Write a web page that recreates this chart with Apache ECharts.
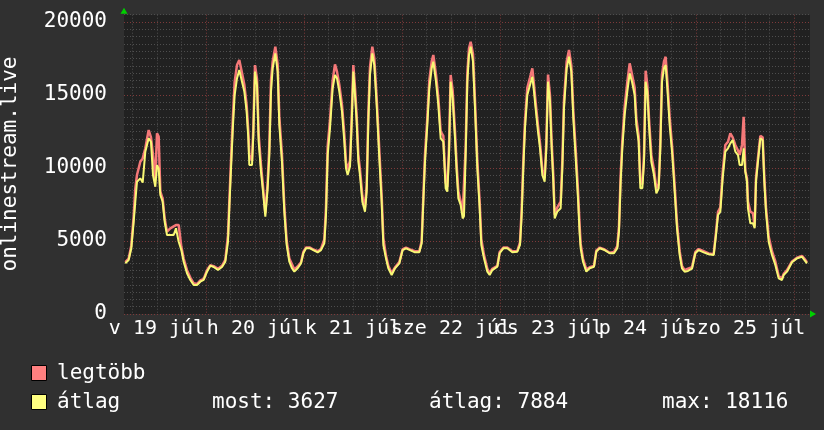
<!DOCTYPE html>
<html>
<head>
<meta charset="utf-8">
<script src="https://cdn.jsdelivr.net/npm/echarts@6/dist/echarts.min.js"></script>
<style>
  html, body { margin: 0; padding: 0; background: #303030; }
  #chart { width: 824px; height: 430px; }
</style>
</head>
<body>
<div id="chart"></div>
<script>
// hours since v 19 júl 00:00
const hours = [
  4.24, 5.06, 5.71, 6.29, 6.69, 7.10, 7.91, 8.50, 9.14, 9.96, 10.53, 11.02, 11.59, 12.00, 12.41, 12.82,
  13.39, 13.88, 14.45, 15.26, 16.08, 16.65, 17.31, 17.96, 18.53, 19.35, 20.16, 20.98, 21.80, 22.61, 23.43,
  24.25, 25.06, 25.88, 26.94, 27.92, 28.73, 29.39, 29.71, 30.20, 30.61, 31.02, 31.59, 32.16, 32.82, 33.39,
  33.96, 34.37, 34.61, 35.27, 35.59, 36.00, 36.49, 36.90, 37.47, 38.04, 38.53, 39.10, 39.51, 39.92, 40.33,
  40.98, 41.55, 41.96, 42.61, 43.18, 43.76, 44.41, 45.06, 45.63, 46.45, 47.27, 47.84, 48.49, 49.47, 50.29,
  51.35, 52.16, 52.98, 53.39, 53.80, 54.37, 55.02, 55.59, 56.08, 56.65, 57.31, 57.88, 58.29, 58.69, 59.27,
  59.67, 60.08, 60.49, 60.90, 61.31, 61.71, 62.29, 62.94, 63.35, 63.76, 64.16, 64.73, 65.22, 65.80, 66.45,
  67.02, 67.43, 68.08, 68.65, 69.47, 70.29, 71.35, 72.16, 72.98, 73.96, 75.18, 76.24, 76.82, 77.22, 77.63,
  78.20, 78.69, 79.27, 79.67, 80.33, 80.90, 81.47, 82.12, 82.69, 83.10, 83.51, 83.92, 84.41, 84.98, 85.39,
  85.80, 86.37, 86.86, 87.18, 87.59, 88.00, 88.41, 88.82, 89.39, 89.88, 90.45, 91.02, 91.43, 92.08, 92.90,
  93.47, 94.12, 95.35, 95.92, 96.82, 97.80, 99.02, 100.24, 100.90, 101.31, 101.71, 102.12, 102.69, 103.35,
  103.92, 104.33, 104.73, 105.31, 105.80, 106.37, 106.94, 107.35, 107.76, 108.24, 108.65, 109.06, 109.39,
  110.04, 110.86, 111.27, 111.67, 112.33, 112.90, 113.47, 113.96, 114.55, 115.10, 115.51, 115.76, 116.33,
  117.14, 117.96, 119.02, 119.59, 120.41, 121.63, 122.86, 123.92, 124.73, 125.14, 125.55, 125.96, 126.53,
  127.18, 127.76, 128.33, 128.98, 129.39, 129.96, 130.37, 130.86, 131.27, 131.67, 132.08, 132.49, 133.06,
  133.71, 134.29, 134.86, 135.27, 135.67, 136.16, 136.57, 136.98, 137.55, 138.20, 138.78, 139.35, 140.00,
  140.57, 141.22, 142.04, 143.02, 143.84, 144.65, 145.88, 147.10, 148.33, 148.90, 149.39, 149.96, 150.53,
  151.18, 151.84, 152.41, 152.98, 153.63, 154.29, 154.69, 155.27, 155.67, 156.08, 156.49, 156.73, 157.31,
  157.96, 158.37, 158.69, 159.18, 159.76, 160.33, 160.73, 161.14, 161.80, 162.61, 163.43, 164.25, 165.06,
  165.47, 166.29, 167.51, 168.73, 169.96, 170.53, 171.18
]

const atlag = [
  3470, 3700, 4500, 6320, 7690, 9060, 9290, 9000, 11120, 12030, 11800, 9520, 8720, 10200, 9970, 8150,
  7690, 6320, 5410, 5410, 5410, 5870, 4950, 4380, 3580, 2790, 2330, 1990, 1990, 2210, 2330,
  2900, 3310, 3220, 3010, 3220, 3580, 4950, 7240, 10430, 12940, 15000, 16140, 16710, 15910, 15230,
  13860, 12030, 10200, 10200, 12260, 16600, 15680, 11800, 9750, 8150, 6660, 8610, 10890, 15230, 16830,
  17850, 16600, 12940, 10430, 7010, 4730, 3580, 3130, 2900, 3130, 3470, 4160, 4500, 4500, 4380,
  4225, 4380, 4840, 6780, 10890, 12720, 15460, 16370, 16140, 15230, 13860, 11800, 9980, 9520, 10100,
  12940, 16600, 15000, 13170, 10430, 9520, 7690, 7010, 8380, 13170, 16370, 17850, 17050, 14310, 10660,
  7690, 4730, 3810, 3130, 2670, 3130, 3470, 4380, 4500, 4380, 4225, 4225, 4840, 7690, 10430,
  12940, 15460, 16830, 17280, 15910, 14310, 12030, 11800, 8610, 8380, 10890, 15910, 14770, 12030, 9750,
  7920, 7470, 6550, 6700, 10890, 15910, 17740, 18310, 17280, 14090, 9980, 7240, 4730, 3810, 2900,
  2670, 3010, 3240, 4160, 4500, 4500, 4225, 4270, 4730, 6780, 9980, 12720, 15000, 15680,
  16250, 15230, 14090, 12490, 11350, 9520, 9060, 11350, 15910, 14540, 11350, 9060, 6550,
  7010, 7240, 9980, 14090, 16830, 17620, 16600, 13400, 10660, 7920, 5500, 4500, 3580,
  2900, 3130, 3240, 4270, 4500, 4380, 4160, 4160, 4500, 5640, 9060, 11350, 13630,
  15230, 16480, 15910, 15000, 12940, 11800, 8610, 8610, 10430, 15910, 15230, 12940, 10430,
  9520, 8270, 8610, 11350, 15910, 16830, 17050, 15460, 12940, 10890, 8380, 5870, 4040,
  3130, 2900, 2950, 3100, 4160, 4380, 4225, 4090, 4040, 5410, 6780, 7010, 9290,
  11120, 11350, 11690, 11920, 11120, 10890, 10200, 10200, 11350, 9750, 9060, 7240, 6210,
  6210, 5870, 9060, 10430, 12030, 11920, 9060, 7010, 4950, 4040, 3360, 2440, 2330,
  2670, 2900, 3540, 3810, 3920, 3700, 3470
]

const legtobb = [
  3550, 3800, 4700, 6700, 8600, 9520, 10430, 10660, 11350, 12600, 12100, 10890, 9200, 12380, 12150, 8380,
  7900, 6550, 5640, 5870, 6000, 6090, 6100, 4600, 3800, 3000, 2500, 2100, 2050, 2300, 2400,
  3000, 3350, 3280, 3100, 3300, 3700, 5400, 7700, 11000, 13600, 15900, 17050, 17400, 16500, 15700,
  14300, 12500, 10900, 10500, 12700, 17050, 16100, 12300, 10200, 8500, 6900, 9000, 11500, 16000, 17300,
  18310, 17100, 13500, 10900, 7400, 5000, 3800, 3400, 3050, 3250, 3550, 4250, 4550, 4550, 4420,
  4300, 4450, 5100, 7300, 11500, 13300, 16000, 17100, 16600, 15700, 14300, 12300, 10400, 9900, 10500,
  13400, 17050, 15500, 13600, 10900, 9900, 8100, 7300, 8800, 13800, 16900, 18310, 17500, 14800, 11200,
  8100, 5200, 4000, 3300, 2800, 3200, 3550, 4450, 4550, 4420, 4300, 4300, 5000, 8000, 10900,
  13400, 16000, 17300, 17740, 16400, 14800, 12500, 12200, 9000, 8700, 11400, 16370, 15300, 12500, 10200,
  8400, 7700, 6900, 7000, 11400, 16500, 18200, 18650, 17800, 14600, 10500, 7700, 5100, 4050, 3100,
  2800, 3100, 3300, 4250, 4550, 4550, 4300, 4320, 4900, 7200, 10500, 13200, 15500, 16200,
  16830, 15700, 14500, 12900, 11700, 9900, 9300, 11800, 16400, 15000, 11800, 9500, 6800,
  7300, 7700, 10500, 14600, 17300, 18080, 17000, 13900, 11200, 8500, 6000, 4800, 3800,
  3050, 3200, 3300, 4350, 4550, 4420, 4200, 4250, 4650, 6000, 9500, 11900, 14200,
  15900, 17170, 16400, 15500, 13400, 12200, 9000, 8900, 10900, 16660, 15700, 13400, 10900,
  9900, 8600, 8900, 11800, 16400, 17300, 17620, 16000, 13500, 11300, 8800, 6200, 4300,
  3300, 3000, 3100, 3200, 4250, 4450, 4300, 4150, 4100, 5600, 7000, 7300, 9700,
  11580, 11800, 12380, 12100, 11580, 11200, 10900, 11580, 13510, 9800, 9300, 7700, 7010,
  6900, 6000, 9300, 10700, 12200, 12100, 9400, 7300, 5300, 4300, 3600, 2600, 2450,
  2750, 3000, 3600, 3850, 3980, 3800, 3550
]

const dayLabels = ['v 19 júl', 'h 20 júl', 'k 21 júl', 'sze 22 júl', 'cs 23 júl', 'p 24 júl', 'szo 25 júl']
const yTickLabels = [0, 5000, 10000, 15000, 20000]
const legendNames = ['legtöbb', 'átlag']
const statNames = ['most', 'átlag', 'max']
const statValues = [3627, 7884, 18116]

const X_MIN = 3.92
const X_MAX = 171.92
const MONO = 'DejaVu Sans Mono'
const PINK = '#f47878'
const YELLOW = '#f8f874'
const GRID_MINOR = '#4e4e4e'
const GRID_MAJOR = '#7e3a3a'

// 6 hour grid, red at midnight
const gridHours = []
for (let h = 6; h <= 168; h += 6) gridHours.push(h)
const noonHours = dayLabels.map((_, i) => 12 + i * 24)
// labels overlap like rrdtool does, so split them over two axes
// (echarts would otherwise drop one of the overlapping end labels)
const evenNoons = noonHours.filter((_, i) => i % 2 === 0)
const oddNoons = noonHours.filter((_, i) => i % 2 === 1)

const yColors = []
for (let i = 0; i < 10; i++) yColors.push(i === 0 ? GRID_MAJOR : GRID_MINOR)

const chart = echarts.init(document.getElementById('chart'))

function dayLabelAxis (values) {
  return {
    type: 'value',
    position: 'bottom',
    offset: 0,
    min: X_MIN,
    max: X_MAX,
    axisLine: { show: false },
    axisTick: { show: false },
    splitLine: { show: false },
    axisLabel: {
      customValues: values,
      formatter: v => dayLabels[Math.round((v - 12) / 24)],
      color: '#ffffff',
      fontFamily: MONO,
      fontSize: 20,
      margin: 5,
      showMinLabel: true,
      showMaxLabel: true
    }
  }
}

function legendText (x, y, text) {
  return {
    type: 'text',
    x: x,
    y: y,
    style: {
      text: text,
      fill: '#ffffff',
      font: '21px "' + MONO + '"',
      textAlign: 'left',
      textVerticalAlign: 'middle'
    }
  }
}

function legendBox (y, color) {
  return {
    type: 'rect',
    shape: { x: 31.5, y: y + 0.5, width: 15, height: 15 },
    style: { fill: color, stroke: '#000000', lineWidth: 1 }
  }
}

chart.setOption({
  animation: false,
  backgroundColor: '#303030',
  grid: {
    left: 124,
    right: 14,
    top: 14.7,
    bottom: 116,
    show: true,
    backgroundColor: '#212121',
    borderWidth: 0
  },
  xAxis: [
    {
      type: 'value',
      position: 'bottom',
      min: X_MIN,
      max: X_MAX,
      axisLine: {
        show: true,
        lineStyle: { color: '#00d000', width: 0 },
        symbol: ['none', 'triangle'],
        symbolSize: [7, 6],
        symbolOffset: [0, 3]
      },
      axisTick: { show: false, customValues: gridHours },
      splitLine: {
        show: true,
        lineStyle: { color: [GRID_MINOR, GRID_MINOR, GRID_MINOR, GRID_MAJOR], width: 1, type: [1, 2] }
      },
      axisLabel: { show: false }
    },
    dayLabelAxis(evenNoons),
    dayLabelAxis(oddNoons)
  ],
  yAxis: {
    type: 'value',
    min: 0,
    max: 20500,
    interval: 500,
    axisLine: {
      show: true,
      lineStyle: { color: '#00d000', width: 0 },
      symbol: ['none', 'triangle'],
      symbolSize: [7, 6],
      symbolOffset: [0, 4]
    },
    axisTick: { show: false },
    splitLine: {
      show: true,
      lineStyle: { color: yColors, width: 1, type: [1, 2] }
    },
    axisLabel: {
      formatter: v => (yTickLabels.indexOf(v) >= 0 ? String(v) : ''),
      color: '#ffffff',
      fontFamily: MONO,
      fontSize: 21,
      margin: 17
    }
  },
  graphic: [
    {
      type: 'text',
      x: 11,
      y: 164,
      rotation: Math.PI / 2,
      style: {
        text: 'onlinestream.live',
        fill: '#ffffff',
        font: '21px "' + MONO + '"',
        textAlign: 'center',
        textVerticalAlign: 'middle'
      }
    },
    legendBox(365, '#ff8080'),
    legendBox(394, '#ffff80'),
    legendText(57, 374, legendNames[0]),
    legendText(57, 403, legendNames[1]),
    legendText(212, 403, statNames[0] + ': ' + statValues[0]),
    legendText(429, 403, statNames[1] + ': ' + statValues[1]),
    legendText(662, 403, statNames[2] + ': ' + statValues[2])
  ],
  series: [
    {
      name: legendNames[0],
      type: 'line',
      data: hours.map((h, i) => [h, legtobb[i]]),
      showSymbol: false,
      smooth: false,
      lineStyle: { color: PINK, width: 2.5 },
      itemStyle: { color: PINK }
    },
    {
      name: legendNames[1],
      type: 'line',
      data: hours.map((h, i) => [h, atlag[i]]),
      showSymbol: false,
      smooth: false,
      lineStyle: { color: YELLOW, width: 2 },
      itemStyle: { color: YELLOW }
    }
  ]
})
</script>
</body>
</html>
